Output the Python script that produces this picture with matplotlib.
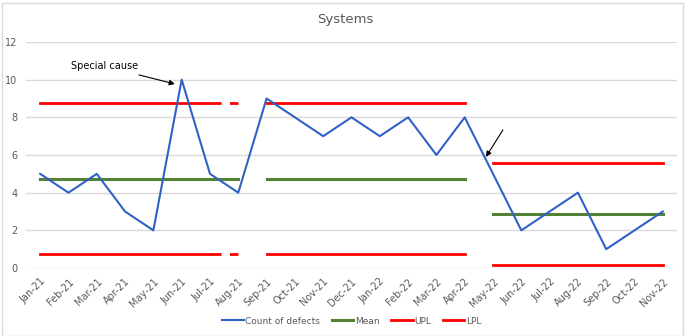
import matplotlib

matplotlib.use("Agg")

import matplotlib.pyplot as plt
import numpy as np
from matplotlib.patches import Rectangle

months = ["Jan-21", "Feb-21", "Mar-21", "Apr-21", "May-21", "Jun-21", "Jul-21", "Aug-21",
          "Sep-21", "Oct-21", "Nov-21", "Dec-21", "Jan-22", "Feb-22", "Mar-22", "Apr-22",
          "May-22", "Jun-22", "Jul-22", "Aug-22", "Sep-22", "Oct-22", "Nov-22"]
defects = [5, 4, 5, 3, 2, 10, 5, 4, 9, 8, 7, 8, 7, 8, 6, 8, 5, 2, 3, 4, 1, 2, 3]

# process limits, one value per phase
mean_1, upl_1, lpl_1 = 4.75, 8.75, 0.75
mean_2, upl_2, lpl_2 = 2.86, 5.58, 0.15

BLUE = "#2F62C4"
GREEN = "#548235"
RED = "#FF0000"

x = np.arange(len(months))
n = len(months)


def phase(value, start, stop):
    y = np.full(n, np.nan)
    y[start:stop + 1] = value
    return y


fig = plt.figure(figsize=(6.9, 3.36), dpi=100)
ax = fig.add_axes([26 / 690, 68 / 336, 651 / 690, 226 / 336])
fig.patches.append(Rectangle((1.5 / 690, 0), 681 / 690, 333.5 / 336, transform=fig.transFigure,
                             fill=False, edgecolor="#D9D9D9", linewidth=1))

ax.plot(x, defects, color=BLUE, linewidth=1.5, label="Count of defects", zorder=4)

# phase 1a: Jan-21 .. Aug-21, phase 1b: Sep-21 .. Apr-22, phase 2: May-22 .. Nov-22
ax.plot(x, phase(mean_1, 0, 7), color=GREEN, linewidth=2.2, label="Mean")
ax.plot(x, phase(upl_1, 0, 6), color=RED, linewidth=2, label="UPL")
ax.plot(x, phase(lpl_1, 0, 6), color=RED, linewidth=2, label="LPL")
ax.plot(x, phase(upl_1, 6, 7), color=RED, linewidth=2, dashes=(4, 3))
ax.plot(x, phase(lpl_1, 6, 7), color=RED, linewidth=2, dashes=(4, 3))
for v, c in [(mean_1, GREEN), (upl_1, RED), (lpl_1, RED)]:
    ax.plot(x, phase(v, 8, 15), color=c, linewidth=2.2 if c == GREEN else 2)
for v, c in [(mean_2, GREEN), (upl_2, RED), (lpl_2, RED)]:
    ax.plot(x, phase(v, 16, 22), color=c, linewidth=2.2 if c == GREEN else 2)

ax.set_xlim(-0.5, n - 0.5)
ax.set_ylim(0, 12)
ax.set_yticks(range(0, 13, 2))
ax.set_xticks(x)
ax.set_xticklabels(months, rotation=45, ha="right", rotation_mode="anchor")
ax.tick_params(axis="both", length=0, labelsize=7, colors="#595959", pad=6)
ax.grid(axis="y", color="#D9D9D9", linewidth=1)
ax.set_axisbelow(True)
for s in ax.spines.values():
    s.set_visible(False)

fig.text(0.5, 1 - 20 / 336, "Systems", ha="center", va="center", fontsize=9.5, color="#595959")

ax.annotate("Special cause", xy=(4.76, 9.77), xytext=(3.45, 10.72), fontsize=7,
            ha="right", va="center",
            arrowprops=dict(arrowstyle="-|>", color="black", lw=0.8, mutation_scale=8,
                            shrinkA=3, shrinkB=0))
ax.annotate("", xy=(15.75, 5.9), xytext=(16.35, 7.33),
            arrowprops=dict(arrowstyle="-|>", color="black", lw=0.8, mutation_scale=8,
                            shrinkA=0, shrinkB=0))

ax.legend(loc="center", bbox_to_anchor=(0.5, (15 - 68) / 226), ncol=4, frameon=False,
          fontsize=6.5, labelcolor="#595959", handlelength=2.4, columnspacing=1.3,
          handletextpad=0.15)

fig.savefig("out.png", dpi=100)
